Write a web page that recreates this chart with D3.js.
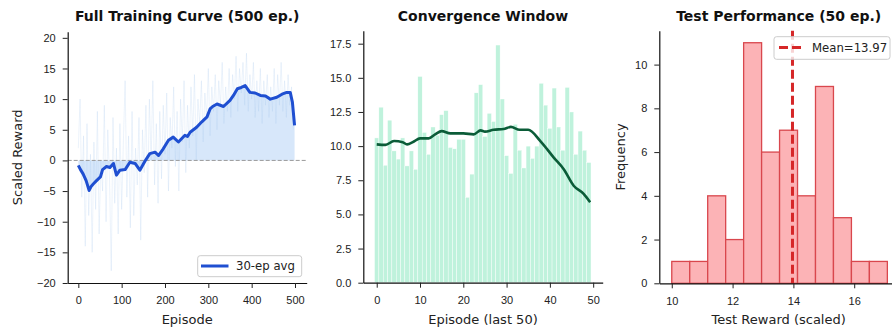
<!DOCTYPE html>
<html>
<head>
<meta charset="utf-8">
<script src="https://cdn.jsdelivr.net/npm/d3@7/dist/d3.min.js"></script>
<style>
  body { margin: 0; background: #fff; }
  svg { display: block; font-family: "DejaVu Sans", sans-serif; }
  .tick text { fill: #222; font-size: 11px; }
  .tick line { stroke: #222; }
  .domain { stroke: #111; stroke-width: 1.2; }
</style>
</head>
<body>
<div id="chart"></div>
<script>
// ---- panel 1: full training curve ----
const rawEpisodes = d3.range(0, 500, 4);
const rawRewards = [
  2, 10, -6, 4, -14, 6, -9, 1,
  -15, 3, -8, 8, -12, 0, -5, 9,
  -10, 5, -3, -18, 7, -7, 2, -12,
  6, -8, 3, 13, -6, 4, -11, 8,
  -9, 2, -4, 7, -13, 5, -2, 9,
  -6, 10, 0, 13, -4, 6, -7, 8,
  -3, 9, 1, 11, -5, 7, 2, 12,
  -1, 8, -5, 10, 3, 13, -2, 9,
  2, 12, 4, 14, 0, 10, 6, 13,
  3, 11, 7, 15, 4, 12, 8, 14,
  5, 13, 9, 16, 6, 12, 8, 15,
  7, 14, 10, 17, 8, 15, 11, 16,
  9, 17.5, 8, 14, 10, 16, 7, 13,
  8, 15, 6, 13, 9, 14, 7, 12,
  8, 15, 6, 14, 9, 16, 8, 13,
  7, 14, 9, 12, 5
];
const avgEpisodes = [0, 5, 11, 18, 25, 30, 35, 42, 51, 56, 65, 73, 81, 88, 96, 108, 119, 131, 142, 154,
  165, 177, 185, 196, 208, 219, 231, 246, 252, 258, 273, 285, 297, 304, 310, 320, 335, 350, 358, 367,
  376, 385, 396, 408, 420, 432, 443, 458, 470, 481, 489, 494, 499];
const avgRewards = [-0.8, -1.5, -2.2, -3.3, -4.9, -4.2, -3.8, -3.3, -2.7, -1.5, -1.0, -1.15, -0.5, -2.4, -1.6, -1.5, -0.3, -0.5, -1.6, -0.1,
  1.1, 1.35, 0.8, 1.9, 3.3, 3.8, 3.0, 4.1, 3.9, 4.6, 5.4, 6.3, 7.1, 8.4, 8.8, 9.2, 8.8, 9.8, 10.6, 11.7,
  11.9, 12.2, 11.1, 11.0, 10.6, 10.5, 10.0, 10.3, 10.8, 11.1, 11.1, 9.5, 5.7];
const p1XTicks = [0, 100, 200, 300, 400, 500];
const p1YTicks = [-20, -15, -10, -5, 0, 5, 10, 15, 20];

// ---- panel 2: convergence window (last 50) ----
const lastRewards = [10.6, 12.85, 8.6, 11.9, 9.65, 9.05, 10.6, 8.55, 9.65, 8.3,
  15.1, 11.0, 9.4, 11.4, 10.8, 12.3, 12.6, 9.9, 9.8, 10.5,
  10.5, 6.25, 7.95, 13.9, 14.5, 10.7, 12.4, 11.8, 17.4, 13.45,
  9.3, 8.0, 11.6, 9.7, 8.4, 10.0, 9.1, 10.0, 14.6, 13.0,
  11.3, 14.25, 11.4, 9.7, 14.3, 12.5, 9.4, 11.1, 9.7, 8.8];
const smoothEpisodes = [0, 2, 4, 6, 7, 8.5, 10, 12, 13.5, 15, 17, 20, 22.4, 24, 25, 27, 29.3, 31, 33, 35, 37.8, 40.9, 43.2, 45.5, 47.8, 49.3];
const smoothRewards = [10.13, 10.09, 10.37, 10.29, 10.13, 10.32, 10.57, 10.57, 10.86, 11.1, 10.93, 10.93, 10.86, 11.15, 11.06, 11.2, 11.25, 11.41, 11.2, 11.2, 10.37, 9.16, 8.31, 7.1, 6.5, 5.89];
const p2XTicks = [0, 10, 20, 30, 40, 50];
const p2YTicks = [0, 2.5, 5, 7.5, 10, 12.5, 15, 17.5];

// ---- panel 3: test performance histogram ----
const histMin = 10.0, histMax = 17.09;
const histCounts = [1, 1, 4, 2, 11, 6, 7, 4, 9, 3, 1, 1];
const testMean = 13.97;
const p3XTicks = [10, 12, 14, 16];
const p3YTicks = [0, 2, 4, 6, 8, 10];

const W = 892, H = 328;
const svg = d3.select('#chart').append('svg').attr('width', W).attr('height', H);

function panel(xr, yr, xd, yd, xt, yt, fmt) {
  const x = d3.scaleLinear().domain(xd).range(xr);
  const y = d3.scaleLinear().domain(yd).range(yr);
  const g = svg.append('g');
  const plot = g.append('g');
  g.append('g').attr('transform', `translate(0,${yr[0]})`)
    .call(d3.axisBottom(x).tickValues(xt).tickSize(5).tickPadding(8.5).tickSizeOuter(0));
  g.append('g').attr('transform', `translate(${xr[0]},0)`)
    .call(d3.axisLeft(y).tickValues(yt).tickSize(5).tickPadding(7).tickSizeOuter(0).tickFormat(fmt || d3.format('d')));
  g.selectAll('.tick text').attr('font-family', null).attr('font-size', null);
  g.selectAll('.tick line').attr('stroke-width', 1);
  return { x, y, g, plot };
}

function title(cx, text) {
  svg.append('text').attr('x', cx).attr('y', 20.5).attr('text-anchor', 'middle')
    .attr('font-size', 14).attr('font-weight', 'bold').attr('fill', '#111').text(text);
}
function xlabel(cx, text) {
  svg.append('text').attr('x', cx).attr('y', 323.5).attr('text-anchor', 'middle')
    .attr('font-size', 13).attr('fill', '#222').text(text);
}
function ylabel(bx, cy, text) {
  svg.append('text').attr('transform', `translate(${bx},${cy}) rotate(-90)`).attr('text-anchor', 'middle')
    .attr('font-size', 13).attr('fill', '#222').text(text);
}

// panel 1
const p1 = panel([67.7, 306.7], [283, 31.7], [-24.5, 527], [-20, 21], p1XTicks, p1YTicks);
const avgData = avgEpisodes.map((e, i) => [e, avgRewards[i]]);
p1.plot.append('path').datum(avgData)
  .attr('fill', '#d3e4fa').attr('opacity', 0.9)
  .attr('d', d3.area().x(d => p1.x(d[0])).y0(p1.y(0)).y1(d => p1.y(d[1])));
p1.plot.append('path').datum(rawEpisodes.map((e, i) => [e, rawRewards[i]]))
  .attr('fill', 'none').attr('stroke', '#a8c9ec').attr('stroke-opacity', 0.4).attr('stroke-width', 0.55)
  .attr('d', d3.line().x(d => p1.x(d[0])).y(d => p1.y(d[1])));
p1.plot.append('line').attr('x1', 67.7).attr('x2', 306.7).attr('y1', p1.y(0)).attr('y2', p1.y(0))
  .attr('stroke', '#999').attr('stroke-width', 1).attr('stroke-dasharray', '4,2');
p1.plot.append('path').datum(avgData)
  .attr('fill', 'none').attr('stroke', '#1f4fd1').attr('stroke-width', 3).attr('stroke-linejoin', 'round')
  .attr('d', d3.line().x(d => p1.x(d[0])).y(d => p1.y(d[1])));
// legend
const lg1 = svg.append('g');
lg1.append('rect').attr('x', 197.7).attr('y', 255.7).attr('width', 104).attr('height', 21).attr('rx', 2.5)
  .attr('fill', '#fff').attr('fill-opacity', 0.8).attr('stroke', '#ccc');
lg1.append('line').attr('x1', 201).attr('x2', 228.5).attr('y1', 266).attr('y2', 266)
  .attr('stroke', '#1f4fd1').attr('stroke-width', 3);
lg1.append('text').attr('x', 236).attr('y', 270).attr('font-size', 11.7).attr('fill', '#222').text('30-ep avg');
title(187.2, 'Full Training Curve (500 ep.)');
xlabel(187.2, 'Episode');
ylabel(22, 157.3, 'Scaled Reward');

// panel 2
const p2 = panel([363.3, 602.7], [282.7, 30.7], [-3.1, 52.2], [0, 18.45], p2XTicks, p2YTicks, d3.format('.1f'));
p2.plot.selectAll('rect').data(lastRewards).join('rect')
  .attr('x', (d, i) => p2.x(i - 0.5)).attr('width', p2.x(1) - p2.x(0))
  .attr('y', d => p2.y(d)).attr('height', d => p2.y(0) - p2.y(d))
  .attr('fill', '#bff2dc').attr('stroke', '#fff').attr('stroke-width', 0.4);
p2.plot.append('path').datum(smoothEpisodes.map((e, i) => [e, smoothRewards[i]]))
  .attr('fill', 'none').attr('stroke', '#0b5c38').attr('stroke-width', 2.6).attr('stroke-linejoin', 'round')
  .attr('d', d3.line().x(d => p2.x(d[0])).y(d => p2.y(d[1])).curve(d3.curveMonotoneX));
title(483, 'Convergence Window');
xlabel(483, 'Episode (last 50)');

// panel 3
const p3 = panel([659.3, 898], [283.3, 30.7], [9.59, 17.44], [0, 11.55], p3XTicks, p3YTicks);
const binW = (histMax - histMin) / histCounts.length;
p3.plot.selectAll('rect').data(histCounts).join('rect')
  .attr('x', (d, i) => p3.x(histMin + i * binW)).attr('width', p3.x(binW) - p3.x(0))
  .attr('y', d => p3.y(d)).attr('height', d => p3.y(0) - p3.y(d))
  .attr('fill', '#fcb3b6').attr('stroke', '#d9474d').attr('stroke-width', 1.3);
p3.plot.append('line').attr('x1', p3.x(testMean)).attr('x2', p3.x(testMean)).attr('y1', 30.7).attr('y2', 283.3)
  .attr('stroke', '#d62728').attr('stroke-width', 3).attr('stroke-dasharray', '9,4');
const lg3 = svg.append('g');
lg3.append('rect').attr('x', 774).attr('y', 36.7).attr('width', 116).attr('height', 22.6).attr('rx', 2.5)
  .attr('fill', '#fff').attr('fill-opacity', 0.8).attr('stroke', '#ccc');
lg3.append('line').attr('x1', 779).attr('x2', 803).attr('y1', 47.5).attr('y2', 47.5)
  .attr('stroke', '#d62728').attr('stroke-width', 3).attr('stroke-dasharray', '9,4');
lg3.append('text').attr('x', 812).attr('y', 51.8).attr('font-size', 11.7).attr('fill', '#222').text('Mean=' + testMean.toFixed(2));
title(778.7, 'Test Performance (50 ep.)');
xlabel(778.7, 'Test Reward (scaled)');
ylabel(625, 157, 'Frequency');
</script>
</body>
</html>
